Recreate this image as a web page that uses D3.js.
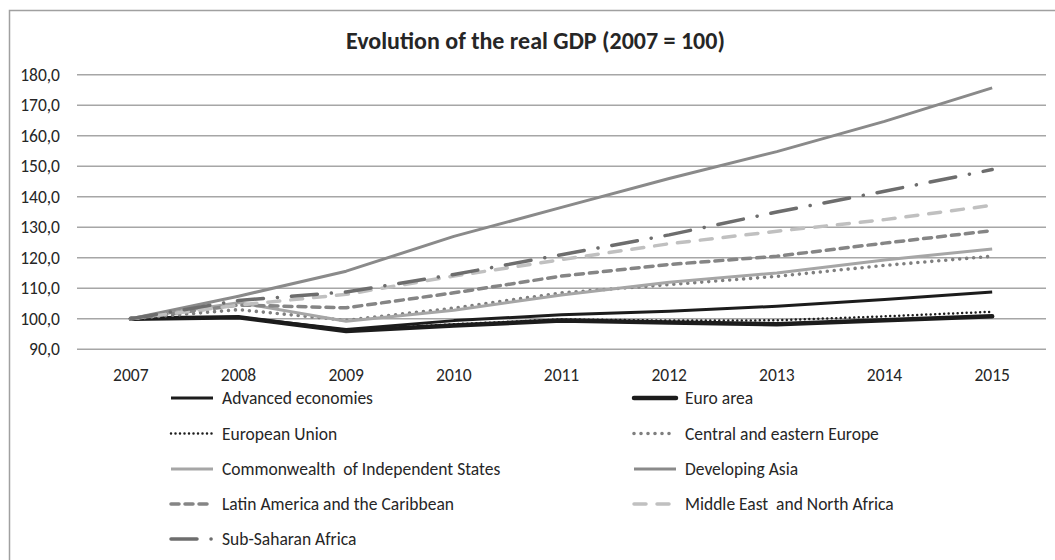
<!DOCTYPE html>
<html>
<head>
<meta charset="utf-8">
<script src="https://cdn.jsdelivr.net/npm/d3@7"></script>
<style>
  html, body { margin: 0; padding: 0; background: #fff; }
  svg { display: block; }
  text { font-family: Carlito, "Liberation Sans", Arial, sans-serif; fill: #262626; }
</style>
</head>
<body>
<svg id="chart" width="1055" height="560"></svg>
<script>
const years = ["2007","2008","2009","2010","2011","2012","2013","2014","2015"];
const yTicks = [90,100,110,120,130,140,150,160,170,180];
const titleText = "Evolution of the real GDP (2007 = 100)";

const seriesNames = [
  "Advanced economies",
  "Euro area",
  "European Union",
  "Central and eastern Europe",
  "Commonwealth  of Independent States",
  "Developing Asia",
  "Latin America and the Caribbean",
  "Middle East  and North Africa",
  "Sub-Saharan Africa"
];
const advanced  = [100, 100.5, 96.5, 99.4, 101.3, 102.5, 104.1, 106.3, 108.8];
const euroArea  = [100, 100.5, 96.0, 97.8, 99.4, 98.8, 98.2, 99.5, 100.8];
const eu        = [100, 100.5, 96.3, 98.2, 99.8, 99.4, 99.5, 100.8, 102.3];
const cee       = [100, 103.0, 99.5, 103.5, 108.5, 111.2, 113.9, 117.5, 120.5];
const cis       = [100, 105.3, 99.2, 102.8, 107.8, 112.0, 115.0, 119.3, 122.9];
const devAsia   = [100, 107.4, 115.6, 127.0, 136.5, 146.0, 154.8, 164.7, 175.7];
const latAm     = [100, 104.5, 103.6, 108.5, 114.0, 117.8, 120.5, 124.8, 128.9];
const mena      = [100, 104.5, 108.0, 114.0, 119.4, 124.6, 128.7, 132.5, 137.2];
const ssa       = [100, 106.0, 108.8, 114.5, 121.0, 127.5, 135.0, 141.8, 148.9];
const seriesValues = [advanced, euroArea, eu, cee, cis, devAsia, latAm, mena, ssa];

const styles = [
  {color:"#1c1c1c", width:3,   dash:null,           cap:"butt"},
  {color:"#1c1c1c", width:4.5, dash:null,           cap:"round"},
  {color:"#1c1c1c", width:2.5, dash:"0,4.5",        cap:"round"},
  {color:"#7f7f7f", width:3.6, dash:"0,7",          cap:"round"},
  {color:"#a6a6a6", width:3,   dash:null,           cap:"butt"},
  {color:"#8a8a8a", width:3,   dash:null,           cap:"butt"},
  {color:"#858585", width:3.5, dash:"8,6",          cap:"round"},
  {color:"#c0c0c0", width:3.5, dash:"12,11",        cap:"round"},
  {color:"#6d6d6d", width:3.5, dash:"26,14,0.1,14", cap:"round"}
];

const svg = d3.select("#chart");

// outer frame (partially cropped)
svg.append("rect")
  .attr("x", 9.5).attr("y", 10.5).attr("width", 1100).attr("height", 600)
  .attr("fill", "none").attr("stroke", "#a0a0a0").attr("stroke-width", 1.5);

const x = d3.scaleBand().domain(years).range([77, 1046]);
const y = d3.scaleLinear().domain([90, 180]).range([349.3, 74.7]);
const xc = d => x(d) + x.bandwidth() / 2;

svg.append("text")
  .attr("x", 535.5).attr("y", 48.5)
  .attr("text-anchor", "middle")
  .attr("font-size", 24).attr("font-weight", "bold")
  .text(titleText);

const loc = d3.formatLocale({decimal: ",", thousands: ".", grouping: [3], currency: ["", ""]});
const fmt = loc.format(".1f");

// gridlines
svg.append("g").selectAll("line").data(yTicks).join("line")
  .attr("x1", 77).attr("x2", 1046)
  .attr("y1", d => y(d)).attr("y2", d => y(d))
  .attr("stroke", "#a6a6a6").attr("stroke-width", 1.5);

// y axis labels
const yAxis = d3.axisLeft(y).tickValues(yTicks).tickFormat(fmt).tickSize(0).tickPadding(0);
const gy = svg.append("g").attr("transform", "translate(60,0)").call(yAxis);
gy.select(".domain").remove();
gy.selectAll("text").attr("font-size", 17.5).attr("fill", "#262626")
  .style("font-family", 'Carlito, "Liberation Sans", Arial, sans-serif');

// x axis labels
const xAxis = d3.axisBottom(x).tickSize(0).tickPadding(0);
const gx = svg.append("g").attr("transform", "translate(0,369)").call(xAxis);
gx.select(".domain").remove();
gx.selectAll("text").attr("font-size", 17.5).attr("fill", "#262626")
  .style("font-family", 'Carlito, "Liberation Sans", Arial, sans-serif');

// lines
const line = d3.line().x((d, i) => xc(years[i])).y(d => y(d));
svg.append("g").selectAll("path").data(seriesValues).join("path")
  .attr("d", d => line(d))
  .attr("fill", "none")
  .attr("stroke", (d, i) => styles[i].color)
  .attr("stroke-width", (d, i) => styles[i].width)
  .attr("stroke-dasharray", (d, i) => styles[i].dash)
  .attr("stroke-linecap", (d, i) => styles[i].cap)
  .attr("stroke-linejoin", "round");

// legend
const legend = svg.append("g");
const colX = [170, 633];
const rowY = [398, 433.5, 469, 504, 539];
seriesNames.forEach((name, i) => {
  const cx = colX[i % 2], cy = rowY[Math.floor(i / 2)];
  const st = styles[i];
  legend.append("line")
    .attr("x1", cx + 1).attr("x2", cx + 43)
    .attr("y1", cy).attr("y2", cy)
    .attr("stroke", st.color).attr("stroke-width", st.width)
    .attr("stroke-dasharray", st.dash)
    .attr("stroke-linecap", st.cap);
  legend.append("text")
    .attr("x", cx + 52).attr("y", cy + 6)
    .attr("font-size", 17.5)
    .attr("xml:space", "preserve")
    .style("white-space", "pre")
    .text(name);
});
</script>
</body>
</html>
